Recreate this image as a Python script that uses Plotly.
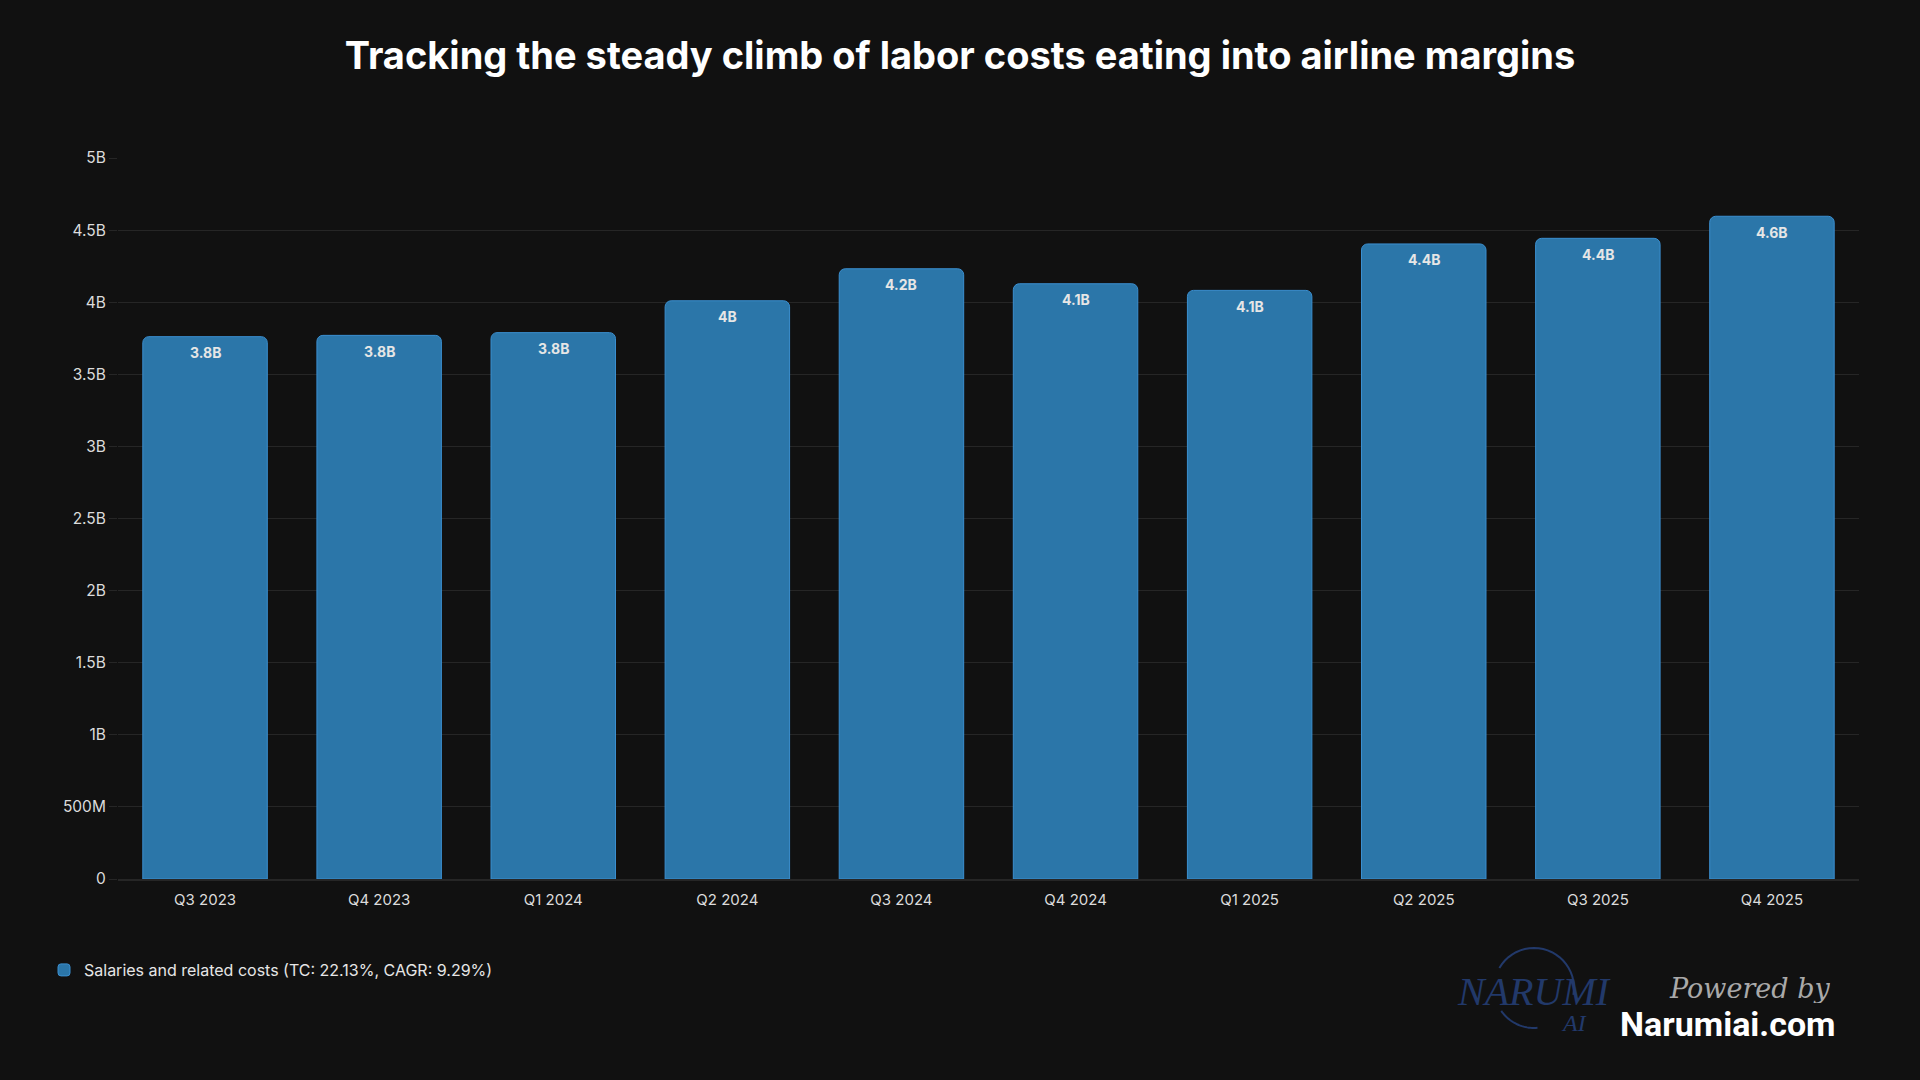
import math
import plotly.graph_objects as go

# ---------------- data ----------------
quarters = ["Q3 2023", "Q4 2023", "Q1 2024", "Q2 2024", "Q3 2024",
            "Q4 2024", "Q1 2025", "Q2 2025", "Q3 2025", "Q4 2025"]
salaries = [3.761e9, 3.770e9, 3.789e9, 4.010e9, 4.232e9,
            4.128e9, 4.082e9, 4.404e9, 4.443e9, 4.596e9]
value_labels = ["3.8B", "3.8B", "3.8B", "4B", "4.2B",
                "4.1B", "4.1B", "4.4B", "4.4B", "4.6B"]
y_tick_vals = [0, 0.5e9, 1e9, 1.5e9, 2e9, 2.5e9, 3e9, 3.5e9, 4e9, 4.5e9, 5e9]
y_tick_text = ["0", "500M", "1B", "1.5B", "2B", "2.5B", "3B", "3.5B", "4B", "4.5B", "5B"]
series_name = "Salaries and related costs (TC: 22.13%, CAGR: 9.29%)"
title_text = "Tracking the steady climb of labor costs eating into airline margins"

# ---------------- layout constants ----------------
W, H = 1920, 1080
ML, MR, MT, MB = 118, 61, 158, 201
PW, PH = W - ML - MR, H - MT - MB
BG = "#111111"
GRID = "#262626"
BAR = "#2b76a9"
BAR_EDGE = "#3b8fd0"
LOGO = "#22396a"


def px_x(px):
    return (px - ML) / PW


def px_y(py):
    return (H - MB - py) / PH


fig = go.Figure()
fig.add_trace(go.Bar(
    x=quarters, y=salaries, name=series_name,
    marker=dict(color=BAR, line=dict(color=BAR_EDGE, width=1), cornerradius=6),
    hoverinfo="skip",
))

annotations = []
for q, v, lab in zip(quarters, salaries, value_labels):
    annotations.append(dict(
        x=q, y=v, xref="x", yref="y", text=lab, showarrow=False,
        yshift=-16, yanchor="middle",
        font=dict(family="Inter", size=14, color="#e6e6e6", weight="bold"),
    ))

# watermark / branding
annotations += [
    dict(x=px_x(1534), y=px_y(991), xref="paper", yref="paper", text="<i>NARUMI</i>",
         showarrow=False, xanchor="center", yanchor="middle", height=34, valign="middle",
         font=dict(family="Liberation Serif", size=40, color=LOGO)),
    dict(x=px_x(1574), y=px_y(1023), xref="paper", yref="paper", text="<i>AI</i>",
         showarrow=False, xanchor="center", yanchor="middle", height=22, valign="middle",
         font=dict(family="Liberation Serif", size=24, color=LOGO)),
    dict(x=px_x(1749), y=px_y(988), xref="paper", yref="paper", text="<i>Powered by</i>",
         showarrow=False, xanchor="center", yanchor="middle", height=30, valign="middle",
         font=dict(family="DejaVu Serif", size=27, color="#a9a9a9")),
    dict(x=px_x(1728), y=px_y(1024), xref="paper", yref="paper", text="<b>Narumiai.com</b>",
         showarrow=False, xanchor="center", yanchor="middle", height=34, valign="middle",
         font=dict(family="Roboto", size=34, color="#ffffff")),
]


def arc_path(cx, cy, r, a0, a1, n=24):
    pts = []
    for i in range(n + 1):
        a = math.radians(a0 + (a1 - a0) * i / n)
        pts.append((px_x(cx + r * math.cos(a)), px_y(cy - r * math.sin(a))))
    return "M" + " L".join(f"{x:.5f},{y:.5f}" for x, y in pts)


shapes = [
    dict(type="path", xref="paper", yref="paper", layer="below",
         path=arc_path(1534, 988, 40, 150, -10), line=dict(color=LOGO, width=2)),
    dict(type="path", xref="paper", yref="paper", layer="below",
         path=arc_path(1534, 988, 40, 215, 275), line=dict(color=LOGO, width=2)),
]

fig.update_layout(
    width=W, height=H,
    paper_bgcolor=BG, plot_bgcolor=BG,
    margin=dict(l=ML, r=MR, t=MT, b=MB),
    font=dict(family="Inter", color="#d8d8d8"),
    title=dict(text=title_text, x=0.5, xanchor="center", xref="container",
               y=1 - 56 / H, yanchor="middle", yref="container",
               font=dict(family="Inter", size=38, color="#ffffff", weight="bold")),
    bargap=0.285,
    showlegend=True,
    legend=dict(orientation="h", x=px_x(44), xanchor="left", y=px_y(970), yanchor="middle",
                font=dict(family="Inter", size=16, color="#e6e6e6"),
                bgcolor="rgba(0,0,0,0)"),
    annotations=annotations,
    shapes=shapes,
    xaxis=dict(showgrid=False, showline=True, linecolor=GRID, linewidth=2,
               tickfont=dict(family="Inter", size=15, color="#dcdcdc"),
               ticks="", ticklabelstandoff=6, fixedrange=True),
    yaxis=dict(range=[0, 5e9], tickvals=y_tick_vals, ticktext=y_tick_text,
               showgrid=True, gridcolor=GRID, gridwidth=1, zeroline=False,
               ticks="outside", ticklen=8, tickcolor=GRID,
               tickfont=dict(family="Inter", size=15.5, color="#dcdcdc"),
               showline=False, fixedrange=True),
)

fig.write_html("out.html")
